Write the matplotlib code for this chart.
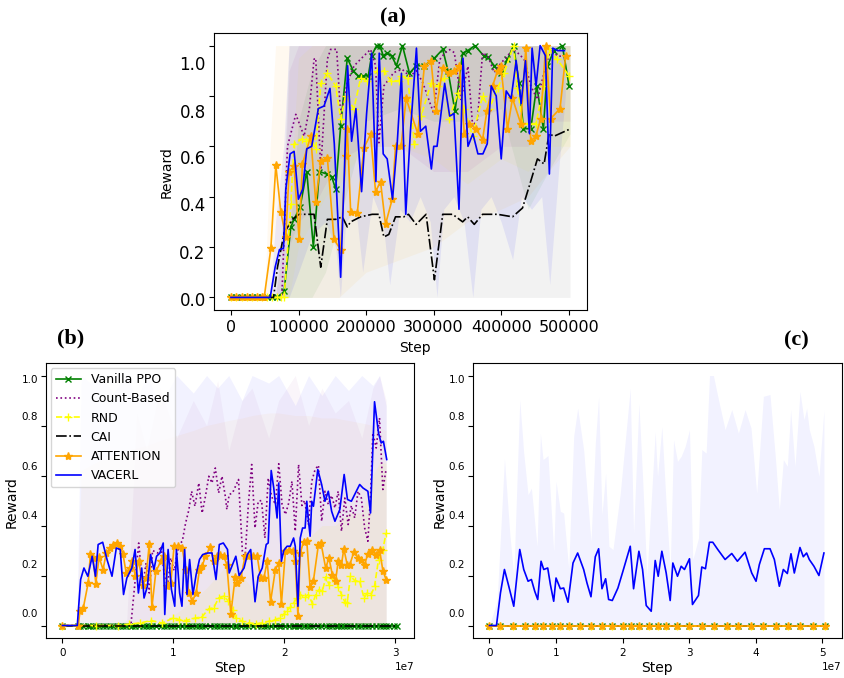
import numpy as np
import matplotlib
matplotlib.use("Agg")
import matplotlib.pyplot as plt

# ---------------- panel (a) : steps in thousands ----------------
ppo_x_a = [0, 7.9, 16.2, 23.6, 31.0, 38.4, 45.8, 53.1, 60.5, 68.9, 78.7, 88.6, 93.5, 102.4, 112.2,
           122.0, 130.9, 141.7, 149.1, 155.0, 162.4, 172.2, 181.0, 188.4, 195.9, 203.3, 208.2, 215.6,
           220.5, 225.4, 231.3, 237.7, 245.1, 253.9, 264.3, 274.1, 286.4, 301.2, 313.5, 321.3, 331.7,
           343.0, 350.4, 361.2, 374.0, 379.9, 389.8, 399.6, 409.4, 418.3, 426.7, 433.0, 443.9, 452.7,
           462.6, 468.5, 478.3, 490.6, 500.5]
ppo_y_a = [0, 0, 0, 0, 0, 0, 0, 0, 0, 0, 0.024, 0.28, 0.31, 0.36, 0.5, 0.2, 0.5, 0.49, 0.48, 0.43,
           0.68, 0.95, 0.9, 0.88, 0.88, 0.88, 0.96, 1.0, 1.0, 0.96, 0.97, 0.96, 0.92, 1.0, 0.89, 0.92,
           0.92, 0.95, 0.985, 0.9, 0.74, 0.97, 0.98, 1.0, 0.96, 0.955, 0.92, 0.89, 0.945, 1.0, 0.85,
           0.67, 0.67, 0.84, 0.67, 0.92, 0.98, 1.0, 0.84]

cnt_x_a = [0, 75.3, 83.7, 96.0, 108.3, 116.1, 123.0, 125.5, 132.9, 142.7, 147.6, 156.5, 162.4, 172.2,
           182.1, 191.9, 206.7, 214.1, 219.0, 226.4, 241.1, 253.4, 264.7, 274.6, 284.4, 300.2, 309.0,
           316.4, 323.8, 330.7, 340.5, 350.9, 357.8, 365.1, 372.5, 380.4, 389.7, 399.6, 409.4, 417.3,
           424.2, 434.0, 443.9, 453.7, 463.6, 473.4, 483.7, 493.6]
cnt_y_a = [0, 0, 0.6, 0.727, 0.64, 0.75, 0.946, 0.95, 0.508, 0.946, 0.985, 0.985, 0.72, 0.853, 0.919,
           0.946, 0.985, 0.92, 0.614, 0.84, 0.893, 0.906, 0.878, 0.9, 0.85, 0.73, 0.944, 0.97, 0.984,
           0.972, 0.786, 0.918, 0.68, 0.707, 0.972, 0.958, 0.893, 0.93, 0.959, 0.985, 0.972, 0.946,
           0.84, 0.786, 0.893, 0.985, 0.958, 0.958]

rnd_x_a = [0, 7.9, 16.2, 23.6, 31.0, 38.4, 45.8, 53.1, 60.5, 68.9, 73.8, 78.7, 88.6, 93.5, 105.8,
           110.7, 118.1, 125.5, 132.9, 142.7, 155.0, 162.4, 169.8, 182.1, 191.9, 201.8, 216.5, 226.4,
           236.2, 248.5, 252.0, 261.8, 271.6, 281.5, 296.2, 306.1, 315.9, 323.3, 335.6, 345.5, 357.8,
           372.5, 382.4, 394.7, 404.5, 418.3, 424.2, 431.6, 441.4, 451.3, 463.6, 470.9, 483.2, 500.5]
rnd_y_a = [0, 0, 0, 0, 0, 0, 0, 0, 0, 0, 0, 0.0, 0.37, 0.61, 0.63, 0.62, 0.63, 0.59, 0.85, 0.89,
           0.84, 0.71, 0.8, 0.75, 0.87, 0.86, 0.9, 0.9, 0.86, 0.86, 0.88, 0.87, 0.61, 0.72, 0.85, 0.84,
           0.87, 0.71, 0.81, 0.75, 0.64, 0.8, 0.75, 0.83, 0.89, 1.0, 0.83, 0.69, 0.69, 0.69, 0.84,
           0.985, 0.945, 0.88]

cai_x_a = [0, 63.0, 68.9, 78.7, 91.0, 100.9, 123.0, 132.9, 142.7, 155.0, 164.9, 172.2, 177.2, 191.9,
           209.1, 219.0, 226.4, 233.7, 243.6, 255.9, 262.8, 274.1, 288.9, 301.2, 313.5, 328.2, 343.0,
           350.4, 360.2, 372.5, 394.7, 416.8, 431.6, 441.4, 453.7, 463.6, 470.9, 478.3, 500.5]
cai_y_a = [0, 0, 0.12, 0.256, 0.31, 0.33, 0.33, 0.12, 0.31, 0.31, 0.32, 0.28, 0.3, 0.32, 0.33, 0.33,
           0.24, 0.25, 0.32, 0.32, 0.33, 0.29, 0.33, 0.07, 0.33, 0.33, 0.30, 0.32, 0.29, 0.33, 0.33,
           0.32, 0.355, 0.44, 0.55, 0.53, 0.65, 0.64, 0.667]

att_x_a = [0, 7.9, 16.2, 23.6, 31.0, 38.4, 45.8, 49.2, 59.1, 66.4, 73.8, 81.2, 86.1, 93.5, 100.9,
           105.8, 118.1, 125.5, 132.9, 142.7, 152.6, 162.4, 169.8, 172.2, 177.2, 187.0, 196.8, 206.7,
           214.1, 221.4, 228.8, 238.7, 243.6, 251.9, 259.3, 276.6, 286.4, 296.2, 303.6, 313.5, 323.3,
           330.7, 338.1, 345.5, 352.8, 362.7, 372.5, 378.9, 387.3, 394.7, 399.6, 409.4, 416.8, 429.1,
           436.5, 443.9, 451.3, 458.6, 466.0, 473.4, 487.2, 495.5]
att_y_a = [0, 0, 0, 0, 0, 0, 0, 0, 0.196, 0.525, 0.34, 0.24, 0.5, 0.52, 0.23, 0.53, 0.64, 0.38,
           0.54, 0.555, 0.23, 0.19, 0.56, 0.67, 0.34, 0.335, 0.594, 0.647, 0.42, 0.46, 0.29, 0.39,
           0.6, 0.6, 0.79, 0.65, 0.92, 0.94, 0.74, 0.91, 0.89, 0.9, 0.92, 0.647, 0.69, 0.67, 0.627,
           0.74, 0.84, 0.9, 0.92, 0.67, 0.79, 0.69, 0.99, 0.62, 0.64, 0.71, 1.0, 0.71, 0.75, 0.96]

vac_x_a = [0, 58.1, 65.4, 71.8, 77.8, 81.2, 87.6, 93.5, 99.9, 106.3, 112.2, 119.6, 129.4, 137.8,
           146.6, 153.0, 162.4, 167.8, 172.7, 178.6, 185.0, 193.4, 200.8, 208.2, 214.6, 219.5, 225.4,
           231.3, 239.2, 246.1, 252.4, 258.8, 265.7, 274.6, 280.5, 288.4, 296.7, 300.2, 305.1, 316.4,
           323.8, 330.2, 337.6, 343.5, 350.9, 358.2, 365.6, 373.0, 379.4, 385.3, 392.7, 400.1, 407.5,
           414.8, 422.2, 429.6, 436.0, 441.9, 445.8, 451.7, 457.7, 465.5, 471.4, 476.4, 483.7, 493.6]
vac_y_a = [0, 0, 0.12, 0.19, 0.195, 0.43, 0.57, 0.58, 0.39, 0.43, 0.59, 0.6, 0.75, 0.76, 0.83, 0.61,
           0.08, 0.49, 0.92, 0.62, 0.75, 0.42, 0.73, 0.97, 0.46, 0.97, 0.57, 0.55, 0.39, 0.61, 0.89,
           0.33, 0.66, 0.99, 0.66, 0.68, 0.51, 0.6, 0.6, 0.85, 0.72, 0.73, 0.35, 0.95, 0.6, 0.65, 0.57,
           0.57, 0.61, 0.84, 0.8, 0.55, 0.82, 0.79, 0.94, 0.77, 0.94, 0.65, 0.99, 0.84, 1.0, 0.96, 0.49,
           0.99, 0.98, 0.98]

# shaded spread, panel (a)
band_x_a = [0, 50, 58, 66, 76, 86, 100, 120, 140, 160, 200, 250, 300, 350, 400, 440, 470, 502]
ppo_lo_a = [0, 0, 0, 0, 0, 0, 0, 0, 0.1, 0.3, 0.7, 0.75, 0.7, 0.7, 0.75, 0.35, 0.5, 0.65]
ppo_hi_a = [0, 0, 0, 0, 0, 0.2, 0.7, 0.9, 1, 1, 1, 1, 1, 1, 1, 1, 1, 1]
cnt_lo_a = [0, 0, 0, 0, 0, 0.2, 0.3, 0.35, 0.45, 0.55, 0.6, 0.6, 0.5, 0.5, 0.6, 0.6, 0.7, 0.7]
cnt_hi_a = [0, 0, 0, 0, 0.2, 0.9, 1, 1, 1, 1, 1, 1, 1, 1, 1, 1, 1, 1]
rnd_lo_a = [0, 0, 0, 0, 0, 0, 0.2, 0.3, 0.4, 0.45, 0.6, 0.6, 0.55, 0.45, 0.55, 0.5, 0.6, 0.6]
rnd_hi_a = [0, 0, 0, 0, 0, 0.3, 0.95, 1, 1, 1, 1, 1, 1, 1, 1, 1, 1, 1]
cai_lo_a = [0, 0, 0, 0, 0, 0, 0, 0, 0, 0, 0, 0, 0, 0, 0, 0, 0, 0]
cai_hi_a = [0, 0, 0, 0, 0.3, 1, 1, 1, 1, 1, 1, 1, 1, 1, 1, 1, 1, 1]
att_lo_a = [0, 0, 0, 0, 0, 0, 0, 0, 0, 0, 0.1, 0.15, 0.2, 0.3, 0.35, 0.4, 0.5, 0.6]
att_hi_a = [0, 0, 0.6, 1, 1, 1, 1, 1, 1, 1, 1, 1, 1, 1, 1, 1, 1, 1]

vac_band_x_a = [0, 58, 66, 78, 86, 100, 120, 140, 155, 162, 170, 185, 195, 210, 225, 235, 250,
                265, 280, 295, 305, 315, 330, 345, 358, 370, 385, 400, 417, 430, 445, 460, 472,
                485, 495]
vac_lo_a = [0, 0, 0, 0, 0, 0.1, 0.25, 0.3, 0.2, 0.0, 0.3, 0.35, 0.1, 0.4, 0.3, 0.05, 0.35, 0.3,
            0.4, 0.3, 0.0, 0.35, 0.4, 0.3, 0.0, 0.35, 0.4, 0.3, 0.15, 0.4, 0.35, 0.4, 0.05, 0.5, 0.8]
vac_hi_a = [0, 0, 0.3, 0.6, 1, 1, 1, 1, 1, 1, 1, 1, 1, 1, 1, 1, 1, 1, 1, 1, 1, 1, 1, 1, 1, 1, 1,
            1, 1, 1, 1, 1, 1, 1, 1]

# ---------------- panel (b) : steps in units of 1e7 ----------------
vac_x_b = [0, 0.134, 0.164, 0.194, 0.229, 0.268, 0.298, 0.322, 0.363, 0.402, 0.447, 0.486, 0.521,
           0.551, 0.581, 0.626, 0.655, 0.685, 0.715, 0.736, 0.766, 0.795, 0.825, 0.849, 0.879, 0.909,
           0.923, 0.953, 0.983, 1.013, 1.028, 1.057, 1.078, 1.102, 1.123, 1.147, 1.177, 1.206, 1.236,
           1.266, 1.311, 1.349, 1.385, 1.415, 1.451, 1.489,
           1.504, 1.564, 1.594, 1.638, 1.668, 1.698, 1.737, 1.766, 1.802, 1.838, 1.856, 1.883, 1.906,
           1.936, 1.951, 1.975, 1.996, 2.026, 2.055, 2.085, 2.1, 2.124, 2.145, 2.166, 2.189, 2.204,
           2.219, 2.234, 2.249, 2.264, 2.303, 2.338, 2.368, 2.398, 2.428, 2.458, 2.502, 2.541, 2.571,
           2.606, 2.636, 2.681, 2.711, 2.755, 2.779, 2.815, 2.851, 2.875, 2.895, 2.925]
vac_y_b = [0, 0, 0.184, 0.23, 0.197, 0.277, 0.197, 0.324, 0.333, 0.264, 0.197, 0.31, 0.304, 0.124,
           0.19, 0.23, 0.304, 0.13, 0.23, 0.11, 0.157, 0.284, 0.224, 0.277, 0.29, 0.33, 0.044, 0.304,
           0.144, 0.077, 0.304, 0.13, 0.077, 0.304, 0.124, 0.264, 0.124, 0.204, 0.264, 0.284, 0.29,
           0.29, 0.184, 0.324, 0.33, 0.304,
           0.21, 0.277, 0.2, 0.23, 0.284, 0.304, 0.095, 0.197, 0.23, 0.324, 0.33, 0.62, 0.55, 0.43,
           0.57, 0.257, 0.3, 0.317, 0.317, 0.35, 0.317, 0.077, 0.35, 0.39, 0.39, 0.497, 0.42, 0.357,
           0.497, 0.477, 0.624, 0.564, 0.497, 0.537, 0.457, 0.417, 0.464, 0.604, 0.504, 0.497, 0.524,
           0.564, 0.55, 0.537, 0.45, 0.895, 0.77, 0.73, 0.737, 0.664]

cnt_x_b = [0, 0.617, 0.688, 0.724, 0.754, 0.783, 0.813, 0.858, 0.888, 0.917, 0.947, 0.977, 1.007,
           1.052, 1.081, 1.111, 1.141, 1.165, 1.195, 1.23, 1.26, 1.29, 1.32, 1.349, 1.379, 1.409,
           1.439, 1.469, 1.483, 1.504, 1.534, 1.588, 1.623, 1.647, 1.677, 1.707, 1.737, 1.766, 1.796,
           1.826, 1.856, 1.886, 1.921, 1.951, 1.981, 2.011, 2.041, 2.07, 2.1, 2.13, 2.16, 2.184, 2.219,
           2.249, 2.279, 2.309, 2.338, 2.368, 2.398, 2.428, 2.458, 2.487, 2.517, 2.547, 2.577, 2.606,
           2.636, 2.666, 2.696, 2.726, 2.755, 2.779, 2.8, 2.83, 2.86, 2.89, 2.919]
cnt_y_b = [0, 0, 0.33, 0.157, 0.25, 0.13, 0.3, 0.29, 0.317, 0.21, 0.157, 0.27, 0.22, 0.324, 0.337,
           0.41, 0.464, 0.537, 0.477, 0.57, 0.45, 0.517, 0.597, 0.57, 0.63, 0.53, 0.597, 0.517, 0.464,
           0.524, 0.53, 0.584, 0.297, 0.27, 0.484, 0.644, 0.39, 0.497, 0.5, 0.35, 0.59, 0.517, 0.484,
           0.647, 0.484, 0.444, 0.49, 0.577, 0.377, 0.644, 0.48, 0.5, 0.404, 0.577, 0.624, 0.641,
           0.417, 0.537, 0.484, 0.52, 0.47, 0.537, 0.377, 0.51, 0.404, 0.48, 0.43, 0.537, 0.51, 0.39,
           0.337, 0.52, 0.77, 0.71, 0.83, 0.544, 0.624]

rnd_x_b = [0, 0.3, 0.5, 0.6, 0.7, 0.8, 0.9, 1.0, 1.052, 1.111, 1.2, 1.26, 1.32, 1.364, 1.409, 1.454,
           1.492, 1.534, 1.564, 1.623, 1.683, 1.743, 1.802, 1.862, 1.921, 1.966, 1.996, 2.026, 2.055,
           2.085, 2.115, 2.145, 2.184, 2.219, 2.255, 2.285, 2.315, 2.344, 2.377, 2.404, 2.434, 2.464,
           2.487, 2.517, 2.547, 2.568, 2.598, 2.636, 2.681, 2.72, 2.749, 2.785, 2.815, 2.851, 2.89,
           2.919]
rnd_y_b = [0, 0, 0, 0.005, 0.01, 0.02, 0.01, 0.03, 0.024, 0.02, 0.03, 0.035, 0.067, 0.07, 0.11, 0.117,
           0.1, 0.064, 0.03, 0.017, 0.01, 0.007, 0.01, 0.017, 0.024, 0.03, 0.045, 0.06, 0.073, 0.09,
           0.11, 0.124, 0.113, 0.124, 0.087, 0.124, 0.144, 0.137, 0.195, 0.164, 0.19, 0.184, 0.153,
           0.124, 0.095, 0.09, 0.197, 0.18, 0.177, 0.11, 0.13, 0.124, 0.157, 0.264, 0.304, 0.37]

att_x_b = [0, 0.143, 0.158, 0.188, 0.232, 0.253, 0.277, 0.301, 0.331, 0.366, 0.396, 0.432, 0.456,
           0.492, 0.521, 0.545, 0.575, 0.605, 0.629, 0.658, 0.688, 0.724, 0.754, 0.783, 0.807, 0.843,
           0.888, 0.917, 0.947, 0.977, 1.007, 1.046, 1.081, 1.111, 1.141, 1.171, 1.206, 1.236, 1.26,
           1.29, 1.334, 1.364, 1.394, 1.424, 1.454, 1.483, 1.519, 1.558, 1.579, 1.609, 1.647, 1.677,
           1.719, 1.757, 1.787, 1.817, 1.847, 1.877, 1.921, 1.951, 1.975, 2.011, 2.041, 2.076, 2.1,
           2.124, 2.145, 2.175, 2.204, 2.234, 2.264, 2.309, 2.332, 2.374, 2.404, 2.434, 2.464, 2.487,
           2.517, 2.538, 2.568, 2.592, 2.63, 2.666, 2.696, 2.726, 2.755, 2.791, 2.83, 2.86, 2.89, 2.919]
att_y_b = [0, 0, 0.057, 0.07, 0.17, 0.288, 0.27, 0.168, 0.273, 0.224, 0.29, 0.31, 0.324, 0.33, 0.317,
           0.288, 0.21, 0.23, 0.257, 0.197, 0.26, 0.164, 0.19, 0.328, 0.073, 0.217, 0.257, 0.277, 0.157,
           0.17, 0.317, 0.317, 0.31, 0.224, 0.13, 0.097, 0.13, 0.224, 0.237, 0.277, 0.315, 0.257, 0.277,
           0.284, 0.277, 0.244, 0.047, 0.193, 0.17, 0.19, 0.277, 0.277, 0.277, 0.277, 0.19, 0.19, 0.257,
           0.095, 0.224, 0.25, 0.087, 0.297, 0.304, 0.3, 0.257, 0.037, 0.29, 0.335, 0.337, 0.153, 0.18,
           0.324, 0.33, 0.23, 0.27, 0.204, 0.18, 0.257, 0.244, 0.307, 0.244, 0.244, 0.295, 0.27, 0.264,
           0.244, 0.287, 0.304, 0.284, 0.304, 0.22, 0.184]

# Vanilla PPO and CAI stay at zero over the whole run in (b)
flat_x_b = att_x_b + [2.95, 2.99, 3.02]
ppo_y_b = [0.0] * len(flat_x_b)
cai_y_b = [0.0] * len(flat_x_b)

band_x_b = [0, 0.13, 0.17, 0.25, 0.34, 0.46, 0.58, 0.67, 0.76, 0.88, 1.03, 1.18, 1.3, 1.4, 1.5,
            1.62, 1.71, 1.86, 1.95, 2.1, 2.22, 2.34, 2.46, 2.58, 2.7, 2.8, 2.86, 2.92]
vac_hi_b = [0, 0, 1.0, 0.97, 1.0, 0.93, 1.0, 0.9, 1.0, 0.88, 1.0, 0.93, 1.0, 0.95, 1.0, 0.9, 1.0,
            0.97, 1.0, 0.88, 1.0, 0.92, 1.0, 0.94, 1.0, 0.96, 1.0, 0.88]
cnt_hi_b = [0, 0, 0, 0, 0, 0, 0.02, 0.85, 0.7, 0.95, 0.75, 0.9, 0.8, 0.98, 0.7, 0.9, 0.95, 0.75,
            0.9, 1.0, 0.8, 0.95, 0.85, 0.9, 0.75, 0.95, 1.0, 0.9]
att_hi_b = [0, 0, 0.62, 0.64, 0.66, 0.68, 0.7, 0.71, 0.72, 0.74, 0.76, 0.78, 0.8, 0.81, 0.82, 0.83,
            0.84, 0.85, 0.85, 0.84, 0.84, 0.83, 0.83, 0.82, 0.81, 0.8, 0.79, 0.78]
rnd_hi_b = [0, 0, 0, 0, 0, 0, 0, 0, 0, 0.01, 0.05, 0.1, 0.15, 0.2, 0.25, 0.2, 0.15, 0.2, 0.25, 0.3,
            0.35, 0.4, 0.4, 0.45, 0.45, 0.6, 0.65, 0.65]

# ---------------- panel (c) : steps in units of 1e7 ----------------
vac_x_c = [0, 0.105, 0.165, 0.225, 0.29, 0.365, 0.455, 0.515, 0.58, 0.63, 0.68, 0.725, 0.775, 0.815,
           0.875, 0.915, 0.965, 1.0, 1.065, 1.115, 1.18, 1.255, 1.325, 1.415, 1.465, 1.525, 1.59,
           1.64, 1.69, 1.745, 1.79, 1.845, 1.93, 2.005, 2.115, 2.165, 2.245, 2.3, 2.355, 2.43, 2.49,
           2.535, 2.59, 2.655, 2.715, 2.755, 2.825, 2.88, 2.93, 3.005, 3.05, 3.14, 3.19, 3.245, 3.305,
           3.355, 3.43, 3.54, 3.64, 3.725, 3.84, 3.94, 4.005, 4.055, 4.13, 4.215, 4.28, 4.355, 4.415,
           4.475, 4.53, 4.58, 4.665, 4.715, 4.765, 4.805, 4.875, 4.95, 5.025]
vac_y_c = [0, 0, 0.13, 0.224, 0.157, 0.077, 0.304, 0.224, 0.177, 0.184, 0.137, 0.104, 0.257, 0.224,
           0.23, 0.164, 0.097, 0.19, 0.147, 0.15, 0.093, 0.25, 0.29, 0.224, 0.17, 0.115, 0.275, 0.307,
           0.147, 0.187, 0.104, 0.1, 0.15, 0.217, 0.317, 0.147, 0.297, 0.224, 0.08, 0.057, 0.26, 0.197,
           0.297, 0.21, 0.1, 0.25, 0.197, 0.237, 0.224, 0.267, 0.084, 0.12, 0.234, 0.227, 0.333, 0.333,
           0.304, 0.264, 0.288, 0.257, 0.293, 0.21, 0.177, 0.244, 0.307, 0.307, 0.264, 0.157, 0.224,
           0.208, 0.287, 0.21, 0.312, 0.275, 0.29, 0.264, 0.237, 0.2, 0.29]

band_x_c = [0, 0.115, 0.225, 0.305, 0.365, 0.455, 0.515, 0.58, 0.63, 0.715, 0.765, 0.805, 0.88,
            0.965, 1.0, 1.065, 1.115, 1.19, 1.265, 1.325, 1.415, 1.525, 1.59, 1.64, 1.69, 1.745,
            1.795, 1.855, 1.965, 2.115, 2.165, 2.245, 2.3, 2.365, 2.49, 2.525, 2.59, 2.655, 2.715,
            2.765, 2.825, 2.88, 2.94, 3.005, 3.055, 3.14, 3.19, 3.255, 3.305, 3.365, 3.43, 3.54,
            3.64, 3.74, 3.84, 3.93, 4.015, 4.115, 4.215, 4.29, 4.355, 4.415, 4.475, 4.525, 4.59,
            4.665, 4.725, 4.765, 4.805, 4.875, 4.95, 5.025]
vac_hi_c = [0, 0.1, 0.67, 0.37, 0.2, 0.904, 0.69, 0.524, 0.55, 0.317, 0.77, 0.664, 0.68, 0.297,
            0.577, 0.457, 0.45, 0.23, 0.757, 0.87, 0.704, 0.337, 0.73, 0.917, 0.444, 0.61, 0.317,
            0.304, 0.53, 0.95, 0.37, 0.89, 0.597, 0.197, 0.777, 0.597, 0.797, 0.484, 0.224, 0.744,
            0.657, 0.677, 0.717, 0.784, 0.264, 0.35, 0.704, 0.69, 1.0, 1.0, 0.917, 0.784, 0.864,
            0.77, 0.864, 0.79, 0.53, 0.917, 0.924, 0.69, 0.464, 0.664, 0.637, 0.864, 0.637, 0.937,
            0.824, 0.87, 0.784, 0.717, 0.597, 0.864]

# the five baselines never leave zero in (c)
flat_x_c = [0, 0.165, 0.35, 0.53, 0.68, 0.805, 0.94, 1.065, 1.2, 1.355, 1.525, 1.69, 1.84, 2.005,
            2.125, 2.24, 2.395, 2.525, 2.655, 2.815, 3.005, 3.19, 3.375, 3.565, 3.74, 3.93, 4.115,
            4.3, 4.49, 4.665, 4.855, 5.04]
flat_y_c = [0.0] * len(flat_x_c)

yticks = [0.0, 0.2, 0.4, 0.6, 0.8, 1.0]
ytick_labels = ["0.0", "0.2", "0.4", "0.6", "0.8", "1.0"]
# where the tick labels sit in the picture (they do not line up with the ticks)
ylabel_pos_a = [-0.005, 0.18, 0.372, 0.558, 0.742, 0.93]
ylabel_pos_bc = [0.049, 0.245, 0.443, 0.639, 0.839, 0.985]

names = ["Vanilla PPO", "Count-Based", "RND", "CAI", "ATTENTION", "VACERL"]
styles = {
    "Vanilla PPO": dict(color="green", ls="-", marker="x", ms=5, mew=1.0),
    "Count-Based": dict(color="purple", ls=":", marker=None),
    "RND": dict(color="yellow", ls="--", marker="+", ms=6, mew=1.0),
    "CAI": dict(color="black", ls="-.", marker=None),
    "ATTENTION": dict(color="orange", ls="-", marker="*", ms=6),
    "VACERL": dict(color="blue", ls="-", marker=None),
}
LW = 1.2


def style_yaxis(ax, label_pos, size, pad):
    ax.set_ylim(-0.05, 1.05)
    ax.set_yticks(yticks)
    ax.tick_params(axis="y", which="major", labelleft=False)
    ax.set_yticks(label_pos, minor=True)
    ax.set_yticklabels(ytick_labels, minor=True)
    ax.tick_params(axis="y", which="minor", length=0, labelsize=size, pad=pad)


fig = plt.figure(figsize=(8.45, 6.78), dpi=100)

# ---------------- (a) ----------------
axa = fig.add_axes([214 / 845, 1 - 310 / 678, 373 / 845, 277 / 678])
xa = lambda v: np.array(v) * 1e3
bx = xa(band_x_a)
axa.fill_between(bx, cai_lo_a, cai_hi_a, color="black", alpha=0.05, lw=0)
for lo, hi, n, al in [(ppo_lo_a, ppo_hi_a, "Vanilla PPO", 0.06), (cnt_lo_a, cnt_hi_a, "Count-Based", 0.06),
                      (rnd_lo_a, rnd_hi_a, "RND", 0.06), (att_lo_a, att_hi_a, "ATTENTION", 0.06)]:
    axa.fill_between(bx, lo, hi, color=styles[n]["color"], alpha=al, lw=0)
axa.fill_between(xa(vac_band_x_a), vac_lo_a, vac_hi_a, color="blue", alpha=0.07, lw=0)
for xs, ys, n in [(ppo_x_a, ppo_y_a, "Vanilla PPO"), (cnt_x_a, cnt_y_a, "Count-Based"),
                  (rnd_x_a, rnd_y_a, "RND"), (cai_x_a, cai_y_a, "CAI"),
                  (att_x_a, att_y_a, "ATTENTION"), (vac_x_a, vac_y_a, "VACERL")]:
    axa.plot(xa(xs), ys, lw=LW, label=n, **styles[n])
axa.set_xlim(-25100, 527100)
axa.set_xticks([0, 100000, 200000, 300000, 400000, 500000])
axa.tick_params(axis="x", labelsize=11.5)
style_yaxis(axa, ylabel_pos_a, 12, 6)
axa.set_xlabel("Step", fontsize=10)
axa.set_ylabel("Reward", fontsize=10)
axa.xaxis.set_label_coords(0.539, -0.112)
axa.yaxis.set_label_coords(-0.107, 0.498)

# ---------------- (b) ----------------
axb = fig.add_axes([45.7 / 845, 40 / 678, 368.3 / 845, 275 / 678])
xb = lambda v: np.array(v) * 1e7
bxb = xb(band_x_b)
axb.fill_between(bxb, 0, rnd_hi_b, color="yellow", alpha=0.07, lw=0)
axb.fill_between(bxb, 0, att_hi_b, color="orange", alpha=0.045, lw=0)
axb.fill_between(bxb, 0, cnt_hi_b, color="purple", alpha=0.04, lw=0)
axb.fill_between(bxb, 0, vac_hi_b, color="blue", alpha=0.05, lw=0)
for xs, ys, n in [(flat_x_b, ppo_y_b, "Vanilla PPO"), (cnt_x_b, cnt_y_b, "Count-Based"),
                  (rnd_x_b, rnd_y_b, "RND"), (flat_x_b, cai_y_b, "CAI"),
                  (att_x_b, att_y_b, "ATTENTION"), (vac_x_b, vac_y_b, "VACERL")]:
    axb.plot(xb(xs), ys, lw=LW, label=n, **styles[n])
axb.set_xticks([0, 1e7, 2e7, 3e7])
axb.tick_params(axis="x", labelsize=7.5)
axb.xaxis.get_offset_text().set_fontsize(7.5)
style_yaxis(axb, ylabel_pos_bc, 7.5, 5.5)
axb.set_xlabel("Step", fontsize=10)
axb.set_ylabel("Reward", fontsize=10)
axb.xaxis.set_label_coords(0.5, -0.084)
axb.yaxis.set_label_coords(-0.073, 0.495)
axb.legend(loc="upper left", fontsize=9, handlelength=2.0, borderaxespad=0.4)

# ---------------- (c) ----------------
axc = fig.add_axes([472.7 / 845, 40 / 678, 369 / 845, 275 / 678])
axc.fill_between(xb(band_x_c), 0, vac_hi_c, color="blue", alpha=0.05, lw=0)
for n in names[:-1]:
    axc.plot(xb(flat_x_c), flat_y_c, lw=LW, label=n, **styles[n])
axc.plot(xb(vac_x_c), vac_y_c, lw=LW, label="VACERL", **styles["VACERL"])
axc.set_xticks([0, 1e7, 2e7, 3e7, 4e7, 5e7])
axc.tick_params(axis="x", labelsize=7.5)
axc.xaxis.get_offset_text().set_fontsize(7.5)
style_yaxis(axc, ylabel_pos_bc, 7.5, 5.5)
axc.set_xlabel("Step", fontsize=10)
axc.set_ylabel("Reward", fontsize=10)
axc.xaxis.set_label_coords(0.5, -0.084)
axc.yaxis.set_label_coords(-0.072, 0.495)

title_font = dict(family="Liberation Serif", fontweight="bold", fontsize=16, ha="center", va="center")
fig.text(393 / 845, 1 - 17 / 678, "(a)", **title_font)
fig.text(70.7 / 845, 1 - 338 / 678, "(b)", **title_font)
fig.text(796.7 / 845, 1 - 340 / 678, "(c)", **title_font)

fig.savefig("out.png", dpi=100)
